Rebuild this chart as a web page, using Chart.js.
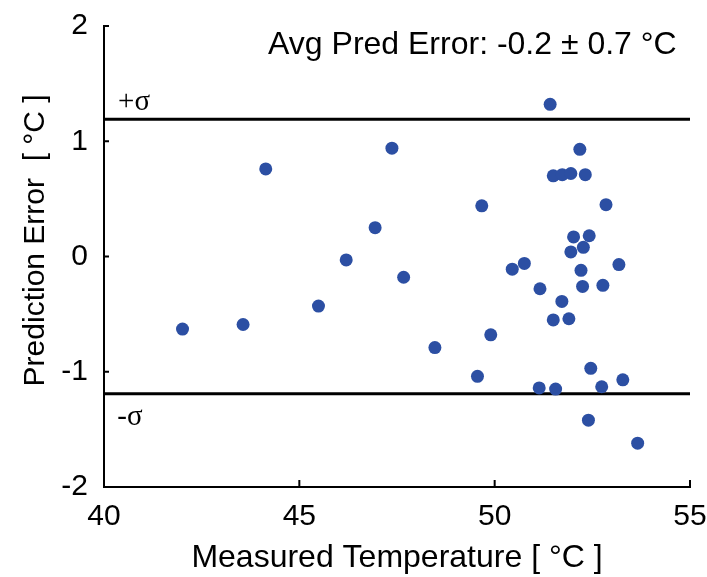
<!DOCTYPE html>
<html>
<head>
<meta charset="utf-8">
<script src="https://cdn.jsdelivr.net/npm/chart.js@4"></script>
<style>
  html, body { margin: 0; padding: 0; background: #fff; }
  #wrap { width: 707px; height: 577px; }
</style>
</head>
<body>
<div id="wrap"><canvas id="chart"></canvas></div>
<script>
// ============================================
// Prediction error vs measured temperature
// ============================================

const measuredTemp = [
  42.01, 43.56, 44.14, 45.49, 46.2, 46.94, 47.37, 47.67, 48.47, 49.56,
  49.67, 49.9, 50.45, 50.76, 51.16, 51.14, 51.42, 51.5, 51.5, 51.56,
  51.72, 51.73, 51.9, 51.95, 51.95, 52.02, 52.18, 52.21, 52.25, 52.27,
  52.32, 52.4, 52.42, 52.46, 52.74, 52.77, 52.85, 53.18, 53.28, 53.66,
];
const predError = [
  -0.63, -0.59, 0.76, -0.43, -0.03, 0.25, 0.94, -0.18, -0.79, -1.04,
  0.44, -0.68, -0.11, -0.06, -0.28, -1.14, 1.32, -0.55, 0.70, -1.15,
  -0.39, 0.71, -0.54, 0.72, 0.04, 0.17, 0.93, -0.12, -0.26, 0.08,
  0.71, -1.42, 0.18, -0.97, -1.13, -0.25, 0.45, -0.07, -1.07, -1.62,
];
const sigma = 1.19;
const xRange = [40, 55];
const yRange = [-2, 2];
const xTicks = [40, 45, 50, 55];
const yTicks = [-2, -1, 0, 1, 2];

const sansFont = "'Liberation Sans', Arial, sans-serif";
const serifFont = "'Liberation Serif', 'Times New Roman', serif";
const dotColor = '#2c4fa3';
const yTitle = 'Prediction Error  [ \u00b0C ]';

const points = measuredTemp.map((x, i) => ({ x, y: predError[i] }));
const upperLine = xRange.map(x => ({ x, y: sigma }));
const lowerLine = xRange.map(x => ({ x, y: -sigma }));

// text notes placed in data coordinates
const notes = [
  { text: 'Avg Pred Error: -0.2 \u00b1 0.7 \u00b0C', x: 44.2, y: 1.83, font: '32px ' + sansFont },
  { text: '+\u03c3', x: 40.36, y: 1.34, font: '29px ' + serifFont },
  { text: '-\u03c3', x: 40.34, y: -1.4, font: '29px ' + serifFont },
];

const notesPlugin = {
  id: 'notes',
  afterDatasetsDraw(chart) {
    const { ctx, scales } = chart;
    ctx.save();
    ctx.fillStyle = '#000';
    ctx.textAlign = 'left';
    ctx.textBaseline = 'middle';
    notes.forEach(n => {
      ctx.font = n.font;
      ctx.fillText(n.text, scales.x.getPixelForValue(n.x), scales.y.getPixelForValue(n.y));
    });
    // y axis title, drawn by hand so it sits a bit above centre like the original
    ctx.translate(36, scales.y.getPixelForValue(0.14));
    ctx.rotate(-Math.PI / 2);
    ctx.textAlign = 'center';
    ctx.font = '30px ' + sansFont;
    ctx.fillText(yTitle, 0, 0);
    ctx.restore();
  },
};

// small inward tick marks, matlab style
const innerTicks = {
  id: 'innerTicks',
  afterDraw(chart) {
    const { ctx, scales, chartArea } = chart;
    ctx.save();
    ctx.strokeStyle = '#000';
    ctx.lineWidth = 2;
    ctx.beginPath();
    xTicks.forEach(v => {
      const px = scales.x.getPixelForValue(v);
      ctx.moveTo(px, chartArea.bottom);
      ctx.lineTo(px, chartArea.bottom - 7);
    });
    yTicks.forEach(v => {
      const py = scales.y.getPixelForValue(v);
      ctx.moveTo(chartArea.left, py);
      ctx.lineTo(chartArea.left + 5, py);
    });
    ctx.stroke();
    ctx.restore();
  },
};

new Chart(document.getElementById('chart'), {
  type: 'scatter',
  data: {
    datasets: [
      {
        data: points,
        backgroundColor: dotColor,
        borderColor: dotColor,
        borderWidth: 0,
        pointRadius: 6.5,
        order: 0,
      },
      {
        type: 'line',
        data: upperLine,
        borderColor: '#000',
        borderWidth: 3,
        pointRadius: 0,
        order: 1,
      },
      {
        type: 'line',
        data: lowerLine,
        borderColor: '#000',
        borderWidth: 3,
        pointRadius: 0,
        order: 1,
      },
    ],
  },
  options: {
    responsive: true,
    maintainAspectRatio: false,
    animation: false,
    layout: { padding: { top: 26, right: 17, left: 0, bottom: 0 } },
    plugins: {
      legend: { display: false },
      tooltip: { enabled: false },
    },
    scales: {
      x: {
        type: 'linear',
        min: xRange[0],
        max: xRange[1],
        afterBuildTicks: s => { s.ticks = xTicks.map(value => ({ value })); },
        afterFit: s => { s.height = 90; s.paddingLeft = 0; s.paddingRight = 0; },
        grid: { display: false, drawTicks: false },
        border: { display: true, color: '#000', width: 2 },
        ticks: {
          color: '#000',
          font: { family: sansFont, size: 30 },
          padding: 12,
          maxRotation: 0,
        },
        title: {
          display: true,
          text: 'Measured Temperature [ \u00b0C ]',
          color: '#000',
          font: { family: sansFont, size: 32 },
          padding: { top: 0, bottom: 0 },
        },
      },
      y: {
        type: 'linear',
        min: yRange[0],
        max: yRange[1],
        afterBuildTicks: s => { s.ticks = yTicks.map(value => ({ value })); },
        afterFit: s => { s.width = 104; s.paddingTop = 0; s.paddingBottom = 0; },
        grid: { display: false, drawTicks: false },
        border: { display: true, color: '#000', width: 2 },
        ticks: {
          color: '#000',
          font: { family: sansFont, size: 30 },
          padding: 16,
        },
        title: { display: false },
      },
    },
  },
  plugins: [notesPlugin, innerTicks],
});
</script>
</body>
</html>
